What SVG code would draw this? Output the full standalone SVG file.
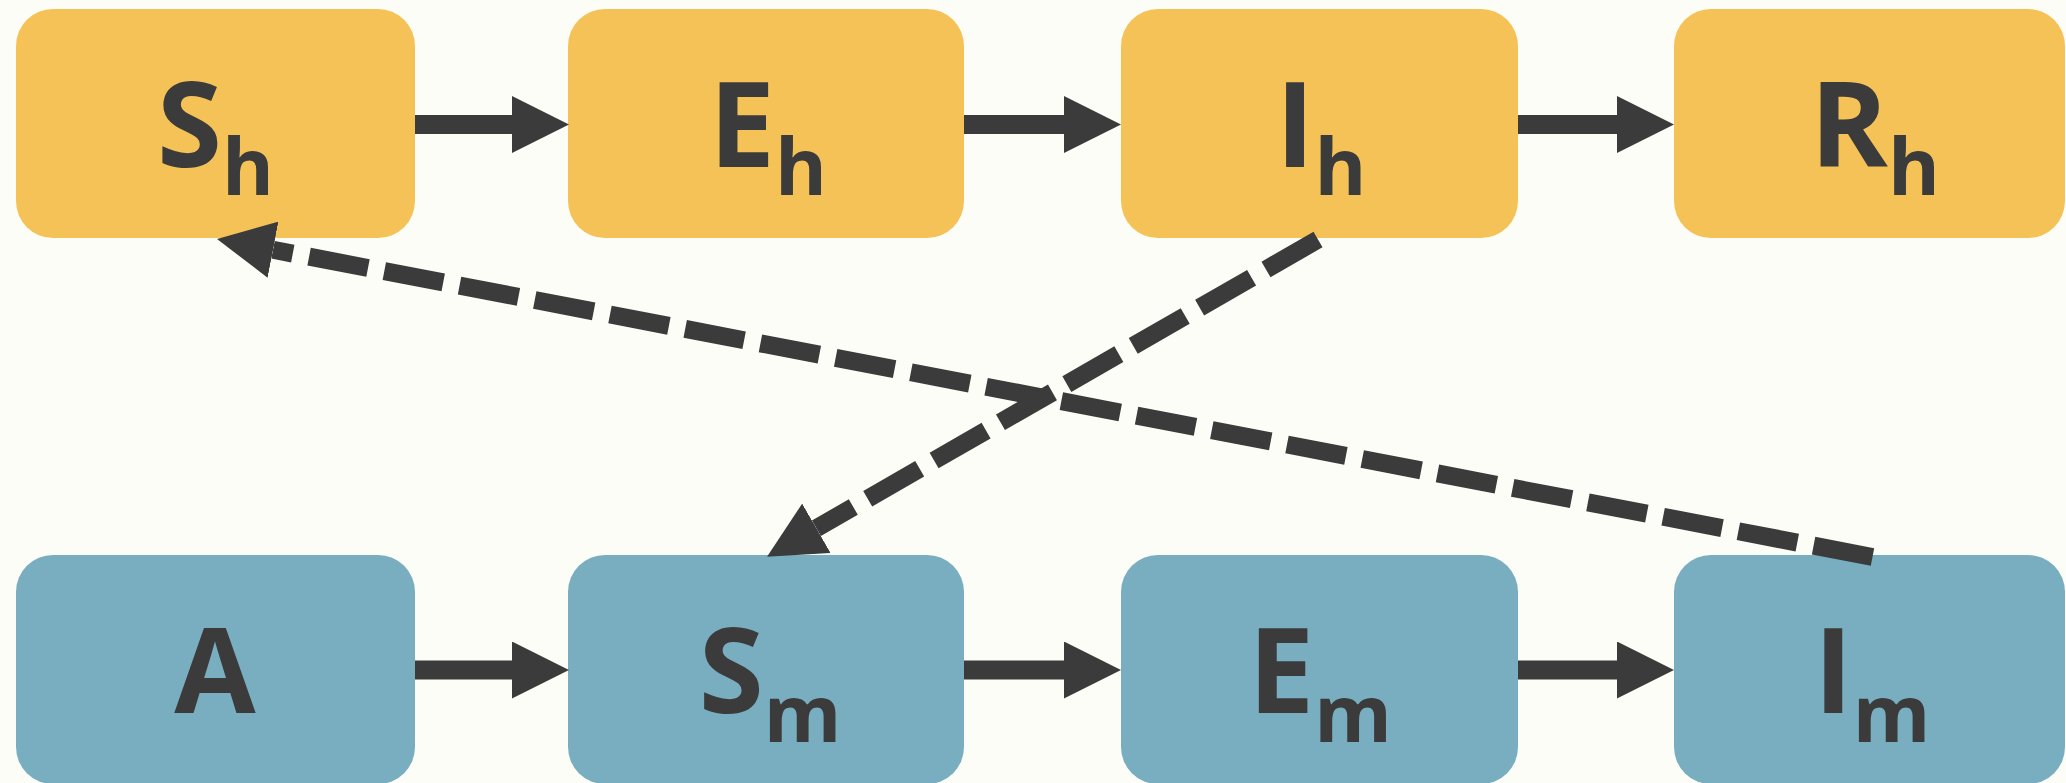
<svg xmlns="http://www.w3.org/2000/svg" width="2066" height="783" viewBox="0 0 2066 783">
  <style>
    .human { fill: #F5C257; }
    .vector { fill: #78AEC0; }
    .lbl { font-family: "Open Sans", "Noto Sans", "Liberation Sans", sans-serif; font-weight: 700; font-size: 118px; fill: #3B3B3B; text-anchor: middle; }
    .sub { font-size: 79px; }
    .solid { stroke: #3B3B3B; stroke-width: 19px; fill: none; marker-end: url(#head); }
    .dashed { stroke: #3B3B3B; stroke-width: 18px; fill: none; stroke-dasharray: 60 16.6; marker-end: url(#head); }
  </style>
  <defs>
    <marker id="head" markerUnits="userSpaceOnUse" markerWidth="57" markerHeight="57" refX="0" refY="28.5" orient="auto">
      <path d="M0,0 L57,28.5 L0,57 z" fill="#3B3B3B"/>
    </marker>
  </defs>
  <rect x="0" y="0" width="2066" height="783" fill="#FDFDF8"/>

  <g id="Sh"><rect class="human" x="16" y="9" width="399" height="229" rx="37"/><text class="lbl" x="215.5" y="167">S<tspan class="sub" dy="28">h</tspan></text></g>
  <g id="Eh"><rect class="human" x="568" y="9" width="396" height="229" rx="37"/><text class="lbl" x="768" y="167">E<tspan class="sub" dy="28">h</tspan></text></g>
  <g id="Ih"><rect class="human" x="1121" y="9" width="397" height="229" rx="37"/><text class="lbl" x="1321" y="167">I<tspan class="sub" dy="28">h</tspan></text></g>
  <g id="Rh"><rect class="human" x="1674" y="9" width="391" height="229" rx="37"/><text class="lbl" x="1875" y="167">R<tspan class="sub" dy="28">h</tspan></text></g>

  <g id="A"><rect class="vector" x="16" y="555" width="399" height="229" rx="37"/><text class="lbl" x="215" y="713">A</text></g>
  <g id="Sm"><rect class="vector" x="568" y="555" width="396" height="229" rx="37"/><text class="lbl" x="770" y="713">S<tspan class="sub" dy="29">m</tspan></text></g>
  <g id="Em"><rect class="vector" x="1121" y="555" width="397" height="229" rx="37"/><text class="lbl" x="1320" y="713">E<tspan class="sub" dy="29">m</tspan></text></g>
  <g id="Im"><rect class="vector" x="1674" y="555" width="391" height="229" rx="37"/><text class="lbl" x="1872" y="713">I<tspan class="sub" dy="29">m</tspan></text></g>

  <g id="connectors">
    <line class="solid" x1="415" y1="124.5" x2="512" y2="124.5"/>
    <line class="solid" x1="964" y1="124.5" x2="1064" y2="124.5"/>
    <line class="solid" x1="1518" y1="124.5" x2="1617" y2="124.5"/>
    <line class="solid" x1="415" y1="670" x2="512" y2="670"/>
    <line class="solid" x1="964" y1="670" x2="1064" y2="670"/>
    <line class="solid" x1="1518" y1="670" x2="1617" y2="670"/>
    <path class="dashed" d="M1872.5,557 L273,249.75"/>
    <path class="dashed" d="M1318,239.5 L816.4,528.3"/>
  </g>
</svg>
